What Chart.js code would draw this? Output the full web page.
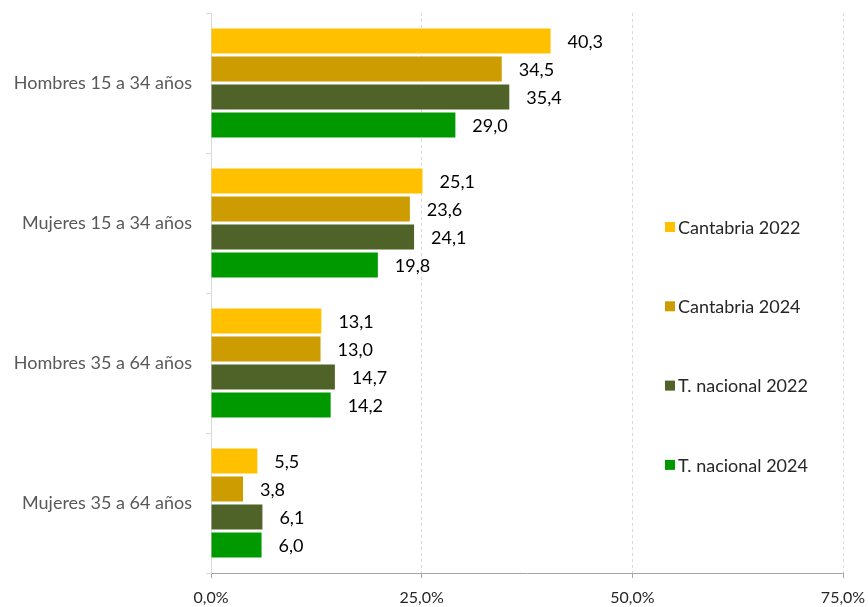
<!DOCTYPE html>
<html>
<head>
<meta charset="utf-8">
<script src="https://cdn.jsdelivr.net/npm/chart.js@4.4.1/dist/chart.umd.min.js"></script>
<style>
  html, body { margin: 0; padding: 0; background: #fff; }
  #wrap { width: 868px; height: 607px; }
</style>
</head>
<body>
<div id="wrap"><canvas id="chart"></canvas></div>
<script>
// categories and series
const categories = ['Hombres 15 a 34 años', 'Mujeres 15 a 34 años', 'Hombres 35 a 64 años', 'Mujeres 35 a 64 años'];
const seriesNames = ['Cantabria 2022', 'Cantabria 2024', 'T. nacional 2022', 'T. nacional 2024'];
const cantabria2022 = [40.3, 25.1, 13.1, 5.5];
const cantabria2024 = [34.5, 23.6, 13.0, 3.8];
const nacional2022 = [35.4, 24.1, 14.7, 6.1];
const nacional2024 = [29.0, 19.8, 14.2, 6.0];
const xTicks = [0, 25, 50, 75];

const colors = ['#FFC000', '#CC9C00', '#4F6228', '#009900'];
const FONT = 'Lato, "Noto Sans", sans-serif';

function fmt(v) {
    return v.toFixed(1).replace('.', ',');
}

// value labels to the right of each bar
const valueLabels = {
    id: 'valueLabels',
    afterDatasetsDraw(chart) {
        const ctx = chart.ctx;
        ctx.save();
        ctx.font = '18px ' + FONT;
        ctx.fillStyle = '#000';
        ctx.textAlign = 'left';
        ctx.textBaseline = 'middle';
        chart.data.datasets.forEach((ds, i) => {
            chart.getDatasetMeta(i).data.forEach((bar, j) => {
                ctx.fillText(fmt(ds.data[j]), bar.x + 17, bar.y + 1);
            });
        });
        ctx.restore();
    }
};

// legend drawn inside the plot area, like the original
const sideLegend = {
    id: 'sideLegend',
    afterDraw(chart) {
        const ctx = chart.ctx;
        const area = chart.chartArea;
        const x = area.left + 454;
        let y = area.top + 214;
        ctx.save();
        ctx.font = '18px ' + FONT;
        ctx.textBaseline = 'middle';
        ctx.textAlign = 'left';
        chart.data.datasets.forEach(ds => {
            ctx.fillStyle = ds.backgroundColor;
            ctx.fillRect(x, y - 5, 10, 10);
            ctx.fillStyle = '#262626';
            ctx.fillText(ds.label, x + 13, y + 1);
            y += 79.3;
        });
        ctx.restore();
    }
};

const allSeries = [cantabria2022, cantabria2024, nacional2022, nacional2024];

new Chart(document.getElementById('chart'), {
    type: 'bar',
    data: {
        labels: categories,
        datasets: allSeries.map((d, i) => ({
            label: seriesNames[i],
            data: d,
            backgroundColor: colors[i],
            borderWidth: 0,
            categoryPercentage: 0.8,
            barPercentage: 0.9
        }))
    },
    options: {
        indexAxis: 'y',
        responsive: true,
        maintainAspectRatio: false,
        animation: false,
        layout: { padding: { top: 13, right: 0, left: 0, bottom: 0 } },
        plugins: {
            legend: { display: false },
            tooltip: { enabled: false }
        },
        scales: {
            x: {
                min: 0,
                max: 75,
                afterBuildTicks(scale) {
                    scale.ticks = xTicks.map(v => ({ value: v }));
                },
                afterFit(scale) {
                    scale.height = 34;
                    scale.paddingLeft = 0;
                    scale.paddingRight = 25;
                },
                ticks: {
                    callback: v => fmt(v) + '%',
                    color: '#262626',
                    font: { family: FONT, size: 16 },
                    padding: 10,
                    maxRotation: 0
                },
                grid: {
                    color: '#d9d9d9',
                    tickColor: '#a6a6a6',
                    tickLength: 5,
                    drawTicks: true
                },
                border: { display: true, color: '#a6a6a6', dash: [3, 3] }
            },
            y: {
                afterFit(scale) {
                    scale.width = 211;
                    scale.paddingTop = 0;
                    scale.paddingBottom = 0;
                },
                ticks: {
                    color: '#595959',
                    font: { family: FONT, size: 18 },
                    padding: 14
                },
                grid: {
                    offset: true,
                    drawOnChartArea: false,
                    color: '#d9d9d9',
                    tickLength: 5
                },
                border: { display: true, color: '#d9d9d9' }
            }
        }
    },
    plugins: [valueLabels, sideLegend]
});
</script>
</body>
</html>
